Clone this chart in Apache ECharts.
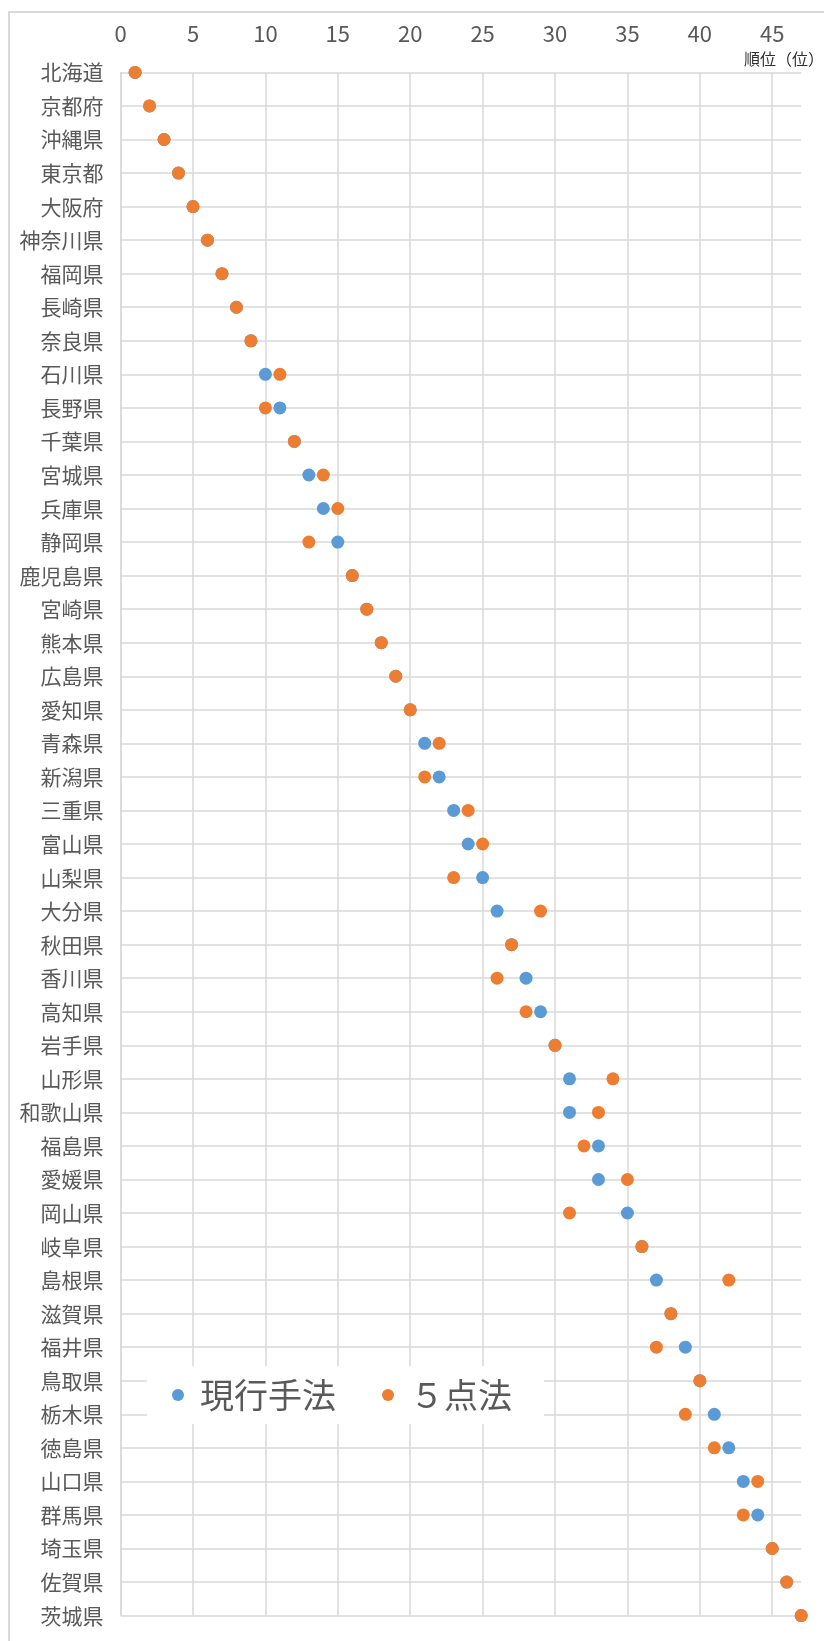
<!doctype html>
<html lang="ja">
<head>
<meta charset="UTF-8">
<title>順位比較</title>
<script src="https://cdn.jsdelivr.net/npm/echarts@6/dist/echarts.min.js"></script>
<style>
  html, body { margin: 0; padding: 0; background: #fff; }
  #chart { width: 824px; height: 1641px; }
</style>
</head>
<body>
<div id="chart"></div>
<script type="text/javascript">
    // 都道府県（上から順）
    var prefs = ['北海道','京都府','沖縄県','東京都','大阪府','神奈川県','福岡県','長崎県','奈良県','石川県',
        '長野県','千葉県','宮城県','兵庫県','静岡県','鹿児島県','宮崎県','熊本県','広島県','愛知県',
        '青森県','新潟県','三重県','富山県','山梨県','大分県','秋田県','香川県','高知県','岩手県',
        '山形県','和歌山県','福島県','愛媛県','岡山県','岐阜県','島根県','滋賀県','福井県','鳥取県',
        '栃木県','徳島県','山口県','群馬県','埼玉県','佐賀県','茨城県'];

    // 現行手法の順位
    var rankCurrent = [1,2,3,4,5,6,7,8,9,10,
        11,12,13,14,15,16,17,18,19,20,
        21,22,23,24,25,26,27,28,29,30,
        31,31,33,33,35,36,37,38,39,40,
        41,42,43,44,45,46,47];

    // 5点法の順位
    var rankFive = [1,2,3,4,5,6,7,8,9,11,
        10,12,14,15,13,16,17,18,19,20,
        22,21,24,25,23,29,27,26,28,30,
        34,33,32,35,31,36,42,38,37,40,
        39,41,44,43,45,46,47];

    var seriesNames = ['現行手法', '５点法'];
    var axisName = '順位（位）';

    var font = '"Noto Sans CJK JP", "Noto Sans", sans-serif';
    var gridColor = '#d9d9d9';
    var textColor = '#595959';

    function toPoints(arr){
        var out = [];
        for (var i = 0; i < arr.length; i++) {
            out.push([arr[i], i]);
        }
        return out;
    }

    var myChart = echarts.init(document.getElementById('chart'));
    myChart.setOption({
        animation: false,
        textStyle: { fontFamily: font },
        grid: { left: 120.6, right: 22.8, top: 72.4, bottom: 25.4, containLabel: false },
        graphic: [
            {
                type: 'rect', z: -10,
                shape: { x: 9, y: 12, width: 900, height: 1700 },
                style: { fill: 'none', stroke: gridColor, lineWidth: 2 }
            },
            {
                type: 'text', right: 0, top: 51,
                style: { text: axisName, fontSize: 16, fill: '#303030', fontFamily: font }
            }
        ],
        legend: {
            left: 147, top: 1366,
            padding: [12, 32, 12, 25],
            backgroundColor: '#ffffff',
            icon: 'circle',
            itemWidth: 12, itemHeight: 12,
            itemGap: 46,
            textStyle: { fontSize: 34, color: textColor, fontFamily: font, padding: [0, 0, 0, 11] },
            data: seriesNames
        },
        xAxis: {
            type: 'value',
            position: 'top',
            min: 0, max: 47, interval: 5,
            axisLine: { show: false },
            axisTick: { show: false },
            axisLabel: { fontSize: 22, color: textColor, margin: 28, showMaxLabel: false },
            splitLine: { show: true, showMaxLine: false, lineStyle: { color: gridColor, width: 1.5 } }
        },
        yAxis: {
            type: 'category',
            inverse: true,
            boundaryGap: false,
            data: prefs,
            axisLine: { show: true, lineStyle: { color: gridColor, width: 1.5 } },
            axisTick: { show: false },
            axisLabel: { fontSize: 21, color: textColor, margin: 17, interval: 0 },
            splitLine: { show: true, lineStyle: { color: gridColor, width: 1.5 } }
        },
        series: [
            {
                name: seriesNames[0], type: 'scatter',
                symbolSize: 13,
                itemStyle: { color: '#5b9bd5', opacity: 1 },
                data: toPoints(rankCurrent)
            },
            {
                name: seriesNames[1], type: 'scatter',
                symbolSize: 13,
                itemStyle: { color: '#ed7d31', opacity: 1 },
                data: toPoints(rankFive)
            }
        ]
    });
</script>
</body>
</html>
